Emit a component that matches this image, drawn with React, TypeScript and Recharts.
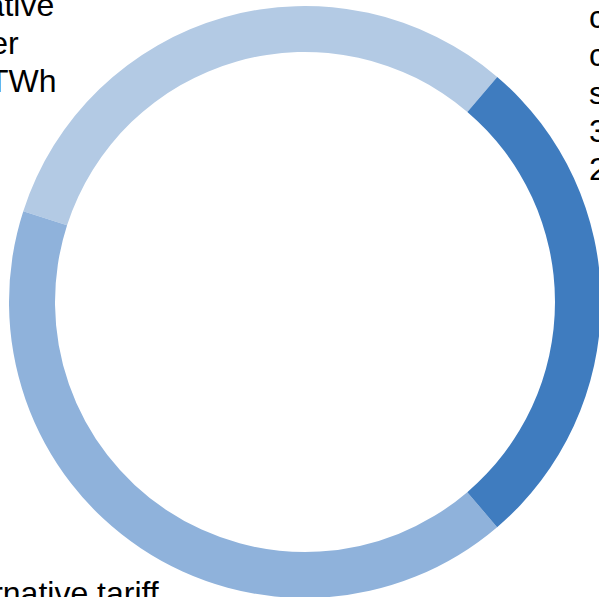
import React from "react";
import { PieChart, Pie, Cell } from "recharts";

// slices, counter-clockwise from the upper right boundary
const sliceNames = ["Alternative provider", "Alternative tariff", "Standard contract"];
const sliceValues = [112.6, 148.3, 99.0];
const sliceColors = ["#b3cae4", "#8fb2db", "#3f7cbf"];

const total = sliceValues.reduce((a, b) => a + b, 0);
const standardShare = ((sliceValues[2] / total) * 100).toFixed(1);

// label text for each slice (lines)
const labelLines: string[][] = [
  ["Alternative", "provider", `${sliceValues[0].toFixed(1)} TWh`],
  ["Alternative tariff", `${sliceValues[1].toFixed(1)} TWh`],
  ["customers on", "contracts with", "standard supply", `${total.toFixed(1)} TWh in all`, `${standardShare}% of volume`],
];

// where each label block sits, relative to the pie centre
const labelOffsets = [
  { dx: -402, dy: -286 },
  { dx: -368, dy: 302 },
  { dx: 284, dy: -274 },
];

const chartData = sliceNames.map((name, i) => ({ name, value: sliceValues[i] }));

const renderLabel = (props: any) => {
  const { cx, cy, index } = props;
  const off = labelOffsets[index];
  const x = cx + off.dx;
  return (
    <text
      key={`lbl-${index}`}
      x={x}
      y={cy + off.dy}
      fill="#000"
      fontSize={32}
      fontFamily="'Liberation Sans', Arial, sans-serif"
      textAnchor="start"
    >
      {labelLines[index].map((line, j) => (
        <tspan key={j} x={x} dy={j === 0 ? 0 : 38}>
          {line}
        </tspan>
      ))}
    </text>
  );
};

const App: React.FC = () => {
  return (
    <div style={{ position: "absolute", left: 0, top: 0 }}>
      <PieChart width={599} height={597} margin={{ top: 0, right: 0, bottom: 0, left: 0 }}>
        <Pie
          data={chartData}
          dataKey="value"
          nameKey="name"
          cx={305}
          cy={302}
          innerRadius={250}
          outerRadius={296}
          startAngle={49.5}
          endAngle={409.5}
          stroke="none"
          label={renderLabel}
          labelLine={false}
          isAnimationActive={false}
        >
          {chartData.map((d, i) => (
            <Cell key={d.name} fill={sliceColors[i]} />
          ))}
        </Pie>
      </PieChart>
    </div>
  );
};

export default App;
